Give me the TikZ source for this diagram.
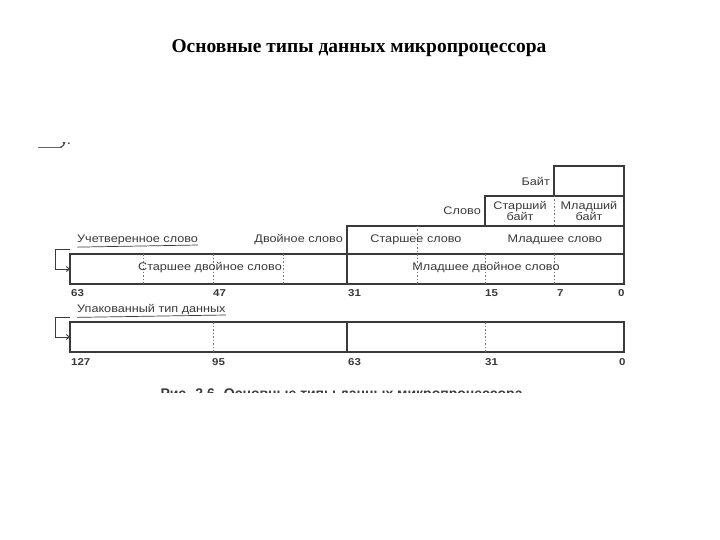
\documentclass[tikz,border=0pt]{standalone}
\usepackage{fontspec}
\setmainfont{Liberation Serif}
\newfontfamily\dsans[FakeStretch=1.15]{Liberation Sans}
\newfontfamily\csans{Liberation Sans}
\usetikzlibrary{arrows.meta}
\definecolor{ink}{HTML}{3A3A3A}
\tikzset{
  cell/.style={draw=ink, line width=1.1pt, inner sep=0pt, outer sep=0pt, anchor=north west},
  lbl/.style={font=\dsans\fontsize{11}{12}\selectfont, text=ink, inner sep=0pt},
  num/.style={font=\dsans\bfseries\fontsize{10}{11}\selectfont, text=ink, inner sep=0pt, anchor=west},
  solidiv/.style={draw=ink, line width=1.1pt},
  dashdiv/.style={draw=ink!70, line width=0.6pt, dash pattern=on 1.5pt off 2pt},
  bracket/.style={draw=ink, line width=0.9pt, -{Straight Barb[length=3pt,width=5pt]}},
  uline/.style={draw=ink, line width=0.7pt}
}
\begin{document}
\begin{tikzpicture}[x=1pt,y=-1pt]
\useasboundingbox[fill=white] (0,0) rectangle (720,540);
% title
\node[font=\bfseries\fontsize{19.5}{22}\selectfont] (title) at (359,48) {Основные типы данных микропроцессора};
% top-left fragment (cut-off remnant)
\begin{scope}
\clip (30,143) rectangle (90,160);
\draw[ink!80, line width=0.8pt] (38,147) -- (62,147);
\node[lbl, anchor=west, font=\dsans\fontsize{14}{15}\selectfont] (frag) at (60,142) {у.};
\end{scope}
% boxes
\node[cell, minimum width=70pt, minimum height=30pt] (byte) at (554,166) {};
\node[cell, minimum width=139pt, minimum height=30pt] (word) at (485,196) {};
\node[cell, minimum width=277pt, minimum height=28pt] (dword) at (347,226) {};
\node[cell, minimum width=554pt, minimum height=30pt] (qword) at (70,254) {};
\node[cell, minimum width=554pt, minimum height=30pt] (packed) at (70,322) {};
% dividers
\draw[dashdiv] (554,196) -- (554,226);
\draw[dashdiv] (417,226) -- (417,254);
\draw[solidiv] (347,254) -- (347,284);
\foreach \xx in {143,213,283,417,485,554} \draw[dashdiv] (\xx,254) -- (\xx,284);
\draw[solidiv] (347,322) -- (347,352);
\foreach \xx in {213,485} \draw[dashdiv] (\xx,322) -- (\xx,352);
% labels in boxes
\node[lbl, align=center, font=\dsans\fontsize{11}{11.5}\selectfont] (sb) at (520,211) {Старший\\байт};
\node[lbl, align=center, font=\dsans\fontsize{11}{11.5}\selectfont] (mb) at (589,211) {Младший\\байт};
\node[lbl] (sw) at (416,240) {Старшее слово};
\node[lbl] (mw) at (555,240) {Младшее слово};
\node[lbl] (sdw) at (210,268) {Старшее двойное слово};
\node[lbl] (mdw) at (486,268) {Младшее двойное слово};
% side labels
\node[lbl, anchor=east] (lbyte) at (550,181) {Байт};
\node[lbl, anchor=east] (lword) at (481,211) {Слово};
\node[lbl, anchor=east] (ldword) at (343,240) {Двойное слово};
\node[lbl, anchor=west] (lqword) at (77,240) {Учетверенное слово};
\node[lbl, anchor=west] (lpack) at (77,310) {Упакованный тип данных};
\draw[uline] (lqword.south west) ++(0,2) -- (lqword.south east |- 0,245);
\draw[uline] (lpack.south west) ++(0,2) -- (lpack.south east |- 0,315);
% brackets
\coordinate (q1) at (70,249);
\coordinate (p1) at (70,317);
\draw[bracket] (q1) -- (55,249) |- (qword.west);
\draw[bracket] (p1) -- (55,317) |- (packed.west);
% bit numbers
\node[num] (n63) at (71,293) {63};
\node[num] (n47) at (213,293) {47};
\node[num] (n31) at (348,293) {31};
\node[num] (n15) at (485,293) {15};
\node[num] (n7) at (557,293) {7};
\node[num] (n0) at (618,293) {0};
\node[num] (m127) at (71,362) {127};
\node[num] (m95) at (212,362) {95};
\node[num] (m63) at (348,362) {63};
\node[num] (m31) at (485,362) {31};
\node[num] (m0) at (619,362) {0};
% clipped caption
\begin{scope}
\clip (140,380) rectangle (560,392);
\node[font=\csans\bfseries\fontsize{14}{15}\selectfont, text=ink, anchor=west] (cap) at (157,395) {Рис. 2.6. Основные типы данных микропроцессора};
\end{scope}
\end{tikzpicture}
\end{document}
